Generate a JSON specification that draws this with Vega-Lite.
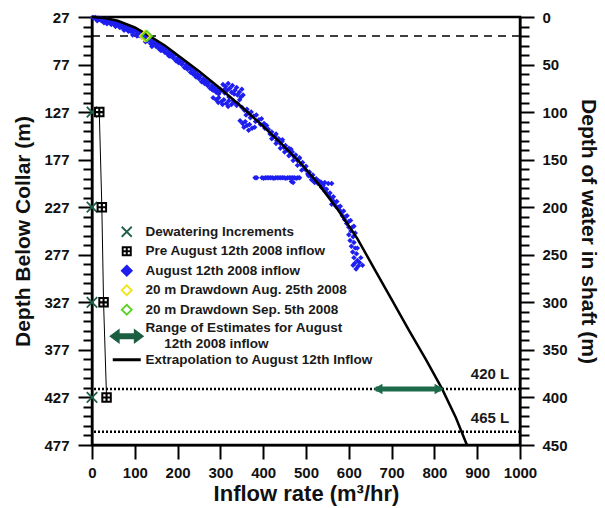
{
  "$schema": "https://vega.github.io/schema/vega-lite/v6.json",
  "width": 428,
  "height": 428,
  "autosize": {"type": "none"},
  "padding": {"left": 92, "top": 17, "right": 85, "bottom": 63},
  "background": "white",
  "config": {
    "font": "Liberation Sans",
    "view": {"stroke": "black", "strokeWidth": 2.5},
    "axis": {
      "labelFont": "Liberation Sans", "labelFontWeight": "bold", "labelFontSize": 15, "labelColor": "#111111",
      "titleFont": "Liberation Sans", "titleFontWeight": "bold", "titleFontSize": 21, "titleColor": "#111111",
      "domainColor": "black", "domainWidth": 2, "tickColor": "black", "tickWidth": 2, "grid": false,
      "labelOverlap": false, "labelFlush": false
    },
    "legend": {
      "labelFont": "Liberation Sans", "labelFontWeight": "bold", "labelFontSize": 13.5, "labelColor": "#1a1a1a",
      "labelLimit": 400, "rowPadding": 1.5, "symbolStrokeWidth": 1.8, "symbolSize": 100, "labelOffset": 12,
      "padding": 0, "symbolOpacity": 1
    }
  },
  "layer": [
    {
      "data": {"values": [{"depth": 418}, {"depth": 463}]},
      "mark": {"type": "rule", "strokeDash": [2, 2], "strokeWidth": 2.5, "color": "black"},
      "encoding": {
        "y": {"field": "depth", "type": "quantitative", "title": "Depth Below Collar (m)",
              "scale": {"domain": [27, 477], "reverse": true, "nice": false, "zero": false},
              "axis": {"orient": "left", "format": "d", "labelOverlap": false,
                       "values": [27,37,47,57,67,77,87,97,107,117,127,137,147,157,167,177,187,197,207,217,227,237,247,257,267,277,287,297,307,317,327,337,347,357,367,377,387,397,407,417,427,437,447,457,467,477],
                       "labelExpr": "datum.value % 50 === 27 ? datum.label : ''",
                       "tickSize": {"condition": {"test": "datum.value % 50 === 27", "value": 14}, "value": 9},
                       "labelPadding": 9, "titlePadding": 10}}
      }
    },
    {
      "data": {"values": [{"water": 20}]},
      "mark": {"type": "rule", "strokeDash": [8, 6], "strokeWidth": 1.5, "color": "black"},
      "encoding": {
        "y": {"field": "water", "type": "quantitative", "title": "Depth of water in shaft (m)",
              "scale": {"domain": [0, 450], "reverse": true, "nice": false, "zero": false},
              "axis": {"orient": "right", "format": "d", "labelOverlap": false,
                       "values": [0,10,20,30,40,50,60,70,80,90,100,110,120,130,140,150,160,170,180,190,200,210,220,230,240,250,260,270,280,290,300,310,320,330,340,350,360,370,380,390,400,410,420,430,440,450],
                       "labelExpr": "datum.value % 50 === 0 ? datum.label : ''",
                       "tickSize": {"condition": {"test": "datum.value % 50 === 0", "value": 14}, "value": 9},
                       "labelPadding": 8, "titlePadding": 10}}
      }
    },
    {
      "layer": [
        {
          "data": {"values": [
            {"q":2,"depth":27.5},{"q":5,"depth":28},{"q":8,"depth":27.5},{"q":10,"depth":29},{"q":12,"depth":31},{"q":14,"depth":28},{"q":16,"depth":30},{"q":20,"depth":28.5},{"q":22,"depth":31},{"q":26,"depth":29.5},{"q":28,"depth":33},{"q":30,"depth":30.5},{"q":33,"depth":29},{"q":35,"depth":34},{"q":36,"depth":32},{"q":40,"depth":30.5},{"q":42,"depth":33},{"q":45,"depth":35},{"q":46,"depth":31.5},{"q":50,"depth":34},{"q":53,"depth":32},{"q":55,"depth":37},{"q":56,"depth":35},{"q":60,"depth":33},{"q":63,"depth":36.5},{"q":65,"depth":38},{"q":66,"depth":34},{"q":70,"depth":38},{"q":73,"depth":35.5},{"q":75,"depth":41},{"q":76,"depth":39},{"q":80,"depth":37},{"q":83,"depth":40.5},{"q":85,"depth":42},{"q":86,"depth":38.5},{"q":90,"depth":42},{"q":93,"depth":39.5},{"q":95,"depth":46},{"q":96,"depth":43},{"q":100,"depth":41},{"q":104,"depth":45},{"q":105,"depth":47},{"q":107,"depth":42.5},{"q":110,"depth":46.5},{"q":114,"depth":44},{"q":117,"depth":48},{"q":120,"depth":46},{"q":124,"depth":50},{"q":125,"depth":53},{"q":127,"depth":47.5},{"q":130,"depth":52},
            {"q":134,"depth":51},{"q":137,"depth":55},{"q":140,"depth":52},{"q":140,"depth":58},{"q":143,"depth":56},{"q":146,"depth":54},{"q":150,"depth":58},{"q":150,"depth":55},{"q":153,"depth":55},{"q":156,"depth":60},{"q":160,"depth":57},{"q":160,"depth":62},{"q":163,"depth":62},{"q":166,"depth":59},{"q":170,"depth":64},{"q":170,"depth":61},{"q":173,"depth":61},{"q":176,"depth":66},{"q":180,"depth":63},{"q":180,"depth":68},{"q":183,"depth":68},{"q":186,"depth":65},{"q":190,"depth":70},{"q":190,"depth":67},{"q":193,"depth":67},{"q":196,"depth":73},{"q":200,"depth":70},{"q":200,"depth":74},{"q":203,"depth":75},{"q":206,"depth":72},{"q":210,"depth":77},{"q":210,"depth":73},{"q":213,"depth":74},{"q":216,"depth":80},{"q":220,"depth":77},{"q":220,"depth":80},{"q":223,"depth":82},{"q":226,"depth":79},{"q":230,"depth":85},{"q":230,"depth":81},{"q":233,"depth":82},{"q":236,"depth":87},{"q":240,"depth":84},{"q":240,"depth":88},{"q":243,"depth":90},{"q":246,"depth":87},{"q":250,"depth":92},{"q":250,"depth":89},{"q":253,"depth":89},{"q":256,"depth":95},{"q":260,"depth":92},{"q":260,"depth":95},{"q":263,"depth":97},{"q":266,"depth":94},{"q":270,"depth":99},{"q":270,"depth":97},{"q":273,"depth":96},{"q":276,"depth":102},{"q":280,"depth":99},{"q":280,"depth":103},{"q":283,"depth":104},{"q":286,"depth":101},{"q":290,"depth":106},{"q":290,"depth":104},{"q":293,"depth":103},{"q":296,"depth":108},{"q":300,"depth":105},
            {"q":306,"depth":98},{"q":312,"depth":100},{"q":318,"depth":97},{"q":322,"depth":102},{"q":328,"depth":99},{"q":334,"depth":104},{"q":338,"depth":101},{"q":344,"depth":106},{"q":350,"depth":103},{"q":353,"depth":109},{"q":316,"depth":104},{"q":326,"depth":106},{"q":340,"depth":109},{"q":348,"depth":111},{"q":332,"depth":108},{"q":310,"depth":103},
            {"q":283,"depth":112},{"q":290,"depth":114},{"q":296,"depth":112},{"q":302,"depth":116},{"q":308,"depth":114},{"q":314,"depth":118},{"q":320,"depth":115},{"q":326,"depth":119},{"q":332,"depth":117},{"q":338,"depth":120},{"q":295,"depth":117},{"q":305,"depth":119},{"q":318,"depth":121},
            {"q":300,"depth":103},{"q":310,"depth":107},{"q":320,"depth":111},{"q":330,"depth":115},{"q":340,"depth":118},{"q":345,"depth":114},
            {"q":350,"depth":122},{"q":356,"depth":125},{"q":362,"depth":124},{"q":366,"depth":128},{"q":372,"depth":127},{"q":378,"depth":131},{"q":384,"depth":130},{"q":390,"depth":135},{"q":396,"depth":134},{"q":402,"depth":139},{"q":408,"depth":141},{"q":360,"depth":130},{"q":370,"depth":133},{"q":382,"depth":137},{"q":394,"depth":140},{"q":404,"depth":144},
            {"q":346,"depth":136},{"q":352,"depth":139},{"q":358,"depth":137},{"q":362,"depth":141},{"q":368,"depth":140},{"q":374,"depth":144},{"q":380,"depth":143},{"q":355,"depth":143},{"q":366,"depth":146},
            {"q":412,"depth":145},{"q":416,"depth":150},{"q":420,"depth":148},{"q":424,"depth":153},{"q":428,"depth":152},{"q":432,"depth":157},{"q":436,"depth":155},{"q":440,"depth":160},{"q":444,"depth":158},{"q":448,"depth":164},{"q":452,"depth":162},{"q":456,"depth":167},{"q":460,"depth":165},{"q":464,"depth":171},{"q":468,"depth":169},{"q":472,"depth":174},{"q":476,"depth":172},{"q":480,"depth":178},{"q":484,"depth":176},{"q":488,"depth":182},{"q":492,"depth":180},{"q":496,"depth":186},{"q":500,"depth":184},{"q":420,"depth":155},{"q":430,"depth":160},{"q":440,"depth":165},{"q":450,"depth":169},{"q":460,"depth":173},{"q":470,"depth":178},{"q":480,"depth":183},{"q":490,"depth":188},{"q":430,"depth":150},{"q":445,"depth":156},{"q":465,"depth":166},{"q":485,"depth":175},
            {"q":381,"depth":196},{"q":385,"depth":196},{"q":397,"depth":196},{"q":401,"depth":196.5},{"q":405,"depth":196},{"q":409,"depth":196},{"q":413,"depth":196},{"q":417,"depth":196},{"q":421,"depth":196},{"q":425,"depth":196.5},{"q":429,"depth":196},{"q":433,"depth":196},{"q":437,"depth":196},{"q":441,"depth":196},{"q":445,"depth":196},{"q":449,"depth":196},{"q":453,"depth":196.5},{"q":457,"depth":196},{"q":461,"depth":196},{"q":465,"depth":196},{"q":469,"depth":196},{"q":473,"depth":196},{"q":477,"depth":196.5},{"q":481,"depth":196},{"q":485,"depth":196},{"q":466,"depth":200},{"q":470,"depth":201},{"q":520,"depth":200},{"q":528,"depth":200},{"q":536,"depth":201},{"q":544,"depth":201},{"q":552,"depth":202},{"q":560,"depth":202},
            {"q":500,"depth":188},{"q":504,"depth":192},{"q":508,"depth":190},{"q":512,"depth":195},{"q":516,"depth":193},{"q":520,"depth":198},{"q":524,"depth":197},{"q":528,"depth":202},{"q":532,"depth":200},{"q":536,"depth":206},{"q":540,"depth":204},{"q":544,"depth":210},{"q":548,"depth":208},{"q":552,"depth":214},{"q":556,"depth":212},{"q":560,"depth":218},{"q":564,"depth":216},{"q":568,"depth":222},{"q":572,"depth":221},{"q":576,"depth":227},{"q":580,"depth":226},{"q":584,"depth":232},{"q":588,"depth":231},{"q":592,"depth":237},{"q":596,"depth":236},{"q":600,"depth":242},{"q":604,"depth":241},{"q":608,"depth":248},{"q":612,"depth":247},{"q":615,"depth":254},{"q":605,"depth":252},{"q":600,"depth":256},{"q":610,"depth":258},{"q":603,"depth":262},{"q":612,"depth":264},{"q":606,"depth":268},{"q":615,"depth":270},{"q":609,"depth":274},{"q":618,"depth":276},{"q":612,"depth":280},{"q":620,"depth":283},{"q":614,"depth":286},{"q":622,"depth":289},{"q":617,"depth":292},{"q":610,"depth":288},{"q":625,"depth":285},{"q":600,"depth":248},{"q":595,"depth":244},{"q":590,"depth":240},{"q":585,"depth":236},{"q":580,"depth":231},{"q":575,"depth":228},{"q":570,"depth":226},{"q":565,"depth":221},{"q":560,"depth":224},{"q":555,"depth":216},{"q":548,"depth":212},{"q":542,"depth":207},{"q":535,"depth":204},{"q":527,"depth":199},{"q":520,"depth":201},{"q":513,"depth":198},{"q":506,"depth":194},{"q":628,"depth":280},{"q":632,"depth":288},{"q":620,"depth":270}
          ]},
          "mark": {"type": "point", "shape": "diamond", "filled": true, "size": 30, "color": "#1e1ef0", "opacity": 1},
          "encoding": {
            "x": {"field": "q", "type": "quantitative", "title": "Inflow rate (m³/hr)",
                  "scale": {"domain": [0, 1000], "nice": false, "zero": false},
                  "axis": {"values": [0,50,100,150,200,250,300,350,400,450,500,550,600,650,700,750,800,850,900,950,1000],
                           "format": "d", "labelOverlap": false,
                           "labelExpr": "datum.value % 100 === 0 ? datum.label : ''", "tickSize": 14, "labelPadding": 6, "titlePadding": 3, "titleFontSize": 22}},
            "y": {"field": "depth", "type": "quantitative", "axis": null,
                  "scale": {"domain": [27, 477], "reverse": true, "nice": false, "zero": false}}
          }
        },
        {
          "data": {"values": [
            {"q":0,"depth":27},{"q":30,"depth":28},{"q":60,"depth":31},{"q":100,"depth":38},{"q":131,"depth":46},{"q":170,"depth":57},{"q":206,"depth":69},{"q":250,"depth":84},{"q":294,"depth":100},{"q":346,"depth":120},{"q":393,"depth":139},{"q":440,"depth":159},{"q":486,"depth":180},{"q":530,"depth":203},{"q":575,"depth":230},{"q":620,"depth":260},{"q":660,"depth":292},{"q":700,"depth":324},{"q":740,"depth":356},{"q":780,"depth":387},{"q":818,"depth":418},{"q":850,"depth":448},{"q":876,"depth":477}
          ]},
          "mark": {"type": "line", "color": "black", "strokeWidth": 2.5},
          "encoding": {
            "x": {"field": "q", "type": "quantitative", "title": "Inflow rate (m³/hr)", "scale": {"domain": [0, 1000], "nice": false, "zero": false}},
            "y": {"field": "depth", "type": "quantitative", "axis": null, "scale": {"domain": [27, 477], "reverse": true, "nice": false, "zero": false}}
          }
        },
        {
          "data": {"values": [{"q":17,"depth":127},{"q":23,"depth":227},{"q":27,"depth":327},{"q":34,"depth":427}]},
          "mark": {"type": "line", "color": "black", "strokeWidth": 1},
          "encoding": {
            "x": {"field": "q", "type": "quantitative", "title": "Inflow rate (m³/hr)", "scale": {"domain": [0, 1000], "nice": false, "zero": false}},
            "y": {"field": "depth", "type": "quantitative", "axis": null, "scale": {"domain": [27, 477], "reverse": true, "nice": false, "zero": false}},
            "order": {"field": "depth", "type": "quantitative"}
          }
        },
        {
          "data": {"values": [{"q": 663, "q2": 815, "depth": 418}]},
          "mark": {"type": "rule", "color": "#1e6b4c", "strokeWidth": 5},
          "encoding": {
            "x": {"field": "q", "type": "quantitative", "title": "Inflow rate (m³/hr)", "scale": {"domain": [0, 1000], "nice": false, "zero": false}},
            "x2": {"field": "q2"},
            "y": {"field": "depth", "type": "quantitative", "axis": null, "scale": {"domain": [27, 477], "reverse": true, "nice": false, "zero": false}}
          }
        },
        {
          "data": {"values": [{"q": 668, "depth": 418}]},
          "mark": {"type": "point", "shape": "triangle-left", "filled": true, "size": 110, "color": "#1e6b4c", "opacity": 1},
          "encoding": {
            "x": {"field": "q", "type": "quantitative", "title": "Inflow rate (m³/hr)", "scale": {"domain": [0, 1000], "nice": false, "zero": false}},
            "y": {"field": "depth", "type": "quantitative", "axis": null, "scale": {"domain": [27, 477], "reverse": true, "nice": false, "zero": false}}
          }
        },
        {
          "data": {"values": [{"q": 811, "depth": 418}]},
          "mark": {"type": "point", "shape": "triangle-right", "filled": true, "size": 110, "color": "#1e6b4c", "opacity": 1},
          "encoding": {
            "x": {"field": "q", "type": "quantitative", "title": "Inflow rate (m³/hr)", "scale": {"domain": [0, 1000], "nice": false, "zero": false}},
            "y": {"field": "depth", "type": "quantitative", "axis": null, "scale": {"domain": [27, 477], "reverse": true, "nice": false, "zero": false}}
          }
        },
        {
          "data": {"values": [
            {"series":"Dewatering Increments","q":0,"depth":127},{"series":"Dewatering Increments","q":0,"depth":227},{"series":"Dewatering Increments","q":0,"depth":327},{"series":"Dewatering Increments","q":0,"depth":427},
            {"series":"Pre August 12th 2008 inflow","q":17,"depth":127},{"series":"Pre August 12th 2008 inflow","q":23,"depth":227},{"series":"Pre August 12th 2008 inflow","q":27,"depth":327},{"series":"Pre August 12th 2008 inflow","q":34,"depth":427},
            {"series":"20 m Drawdown Aug. 25th 2008","q":124,"depth":47},
            {"series":"20 m Drawdown Sep. 5th 2008","q":128,"depth":47}
          ]},
          "mark": {"type": "point", "filled": true, "size": 110, "strokeWidth": 1.8, "opacity": 1},
          "encoding": {
            "x": {"field": "q", "type": "quantitative", "title": "Inflow rate (m³/hr)", "scale": {"domain": [0, 1000], "nice": false, "zero": false}},
            "y": {"field": "depth", "type": "quantitative", "axis": null, "scale": {"domain": [27, 477], "reverse": true, "nice": false, "zero": false}},
            "shape": {"field": "series", "type": "nominal",
              "scale": {"domain": ["Dewatering Increments","Pre August 12th 2008 inflow","August 12th 2008 inflow","20 m Drawdown Aug. 25th 2008","20 m Drawdown Sep. 5th 2008","Range of Estimates for August 12th 2008 inflow","Extrapolation to August 12th Inflow"],
                        "range": ["M-1,-1L1,1M-1,1L1,-1",
                                  "M-1,-1L1,-1L1,1L-1,1ZM-0.62,-0.62L-0.62,-0.2L-0.2,-0.2L-0.2,-0.62ZM0.2,-0.62L0.2,-0.2L0.62,-0.2L0.62,-0.62ZM-0.62,0.2L-0.62,0.62L-0.2,0.62L-0.2,0.2ZM0.2,0.2L0.2,0.62L0.62,0.62L0.62,0.2Z",
                                  "M0,-1L1,0L0,1L-1,0Z",
                                  "M0,-1L1,0L0,1L-1,0Z",
                                  "M0,-1L1,0L0,1L-1,0Z",
                                  "M-3.2,0L-1.6,-1.2L-1.6,-0.4L1.6,-0.4L1.6,-1.2L3.2,0L1.6,1.2L1.6,0.4L-1.6,0.4L-1.6,1.2Z",
                                  "M-2.8,-0.3L2.8,-0.3L2.8,0.3L-2.8,0.3Z"]},
              "legend": {"title": null, "orient": "none", "legendX": 28, "legendY": 208,
                         "labelExpr": "datum.label === 'Range of Estimates for August 12th 2008 inflow' ? ['Range of Estimates for August', '\u200d\u00a0\u00a0\u00a0\u00a0\u00a012th 2008 inflow'] : datum.label",
                         "encode": {"labels": {"update": {"dy": {"signal": "datum.value === 'Range of Estimates for August 12th 2008 inflow' ? -8 : 0"}}}}}},
            "fill": {"field": "series", "type": "nominal",
              "scale": {"domain": ["Dewatering Increments","Pre August 12th 2008 inflow","August 12th 2008 inflow","20 m Drawdown Aug. 25th 2008","20 m Drawdown Sep. 5th 2008","Range of Estimates for August 12th 2008 inflow","Extrapolation to August 12th Inflow"],
                        "range": ["transparent","black","#1e1ef0","transparent","transparent","#1b5e40","black"]},
              "legend": {"title": null, "orient": "none", "legendX": 28, "legendY": 208,
                         "labelExpr": "datum.label === 'Range of Estimates for August 12th 2008 inflow' ? ['Range of Estimates for August', '\u200d\u00a0\u00a0\u00a0\u00a0\u00a012th 2008 inflow'] : datum.label",
                         "encode": {"labels": {"update": {"dy": {"signal": "datum.value === 'Range of Estimates for August 12th 2008 inflow' ? -8 : 0"}}}}}},
            "stroke": {"field": "series", "type": "nominal",
              "scale": {"domain": ["Dewatering Increments","Pre August 12th 2008 inflow","August 12th 2008 inflow","20 m Drawdown Aug. 25th 2008","20 m Drawdown Sep. 5th 2008","Range of Estimates for August 12th 2008 inflow","Extrapolation to August 12th Inflow"],
                        "range": ["#1f5f47","transparent","#1e1ef0","#f2e41c","#5cd126","#1b5e40","transparent"]},
              "legend": {"title": null, "orient": "none", "legendX": 28, "legendY": 208,
                         "labelExpr": "datum.label === 'Range of Estimates for August 12th 2008 inflow' ? ['Range of Estimates for August', '\u200d\u00a0\u00a0\u00a0\u00a0\u00a012th 2008 inflow'] : datum.label",
                         "encode": {"labels": {"update": {"dy": {"signal": "datum.value === 'Range of Estimates for August 12th 2008 inflow' ? -8 : 0"}}}}}}
          }
        },
        {
          "data": {"values": [{"q": 930, "depth": 402, "label": "420 L"}, {"q": 930, "depth": 449, "label": "465 L"}]},
          "mark": {"type": "text", "font": "Liberation Sans", "fontWeight": "bold", "fontSize": 15, "color": "#1a1a1a", "align": "center", "baseline": "middle"},
          "encoding": {
            "x": {"field": "q", "type": "quantitative", "title": "Inflow rate (m³/hr)", "scale": {"domain": [0, 1000], "nice": false, "zero": false}},
            "y": {"field": "depth", "type": "quantitative", "axis": null, "scale": {"domain": [27, 477], "reverse": true, "nice": false, "zero": false}},
            "text": {"field": "label", "type": "nominal"}
          }
        }
      ]
    }
  ],
  "resolve": {"scale": {"y": "independent"}}
}
